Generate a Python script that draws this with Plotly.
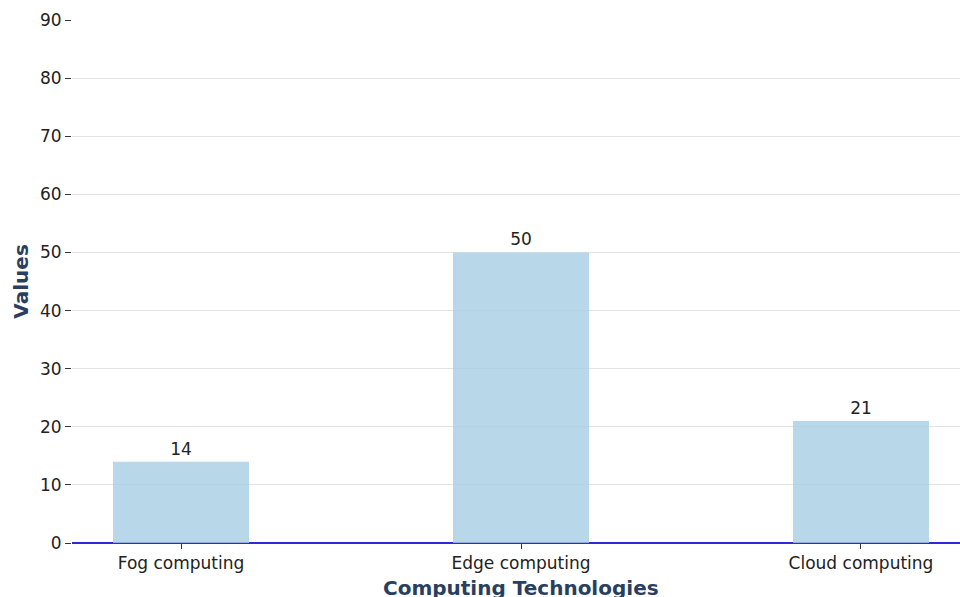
import plotly.graph_objects as go

# Survey counts per computing paradigm
categories = ["Fog computing", "Edge computing", "Cloud computing"]
values = [14, 50, 21]

y_ticks = [0, 10, 20, 30, 40, 50, 60, 70, 80, 90]

x_title = "Computing Technologies"
y_title = "Values"

FONT = "DejaVu Sans"
TEXT_DARK = "#222222"
TITLE_COLOR = "#2a3f5f"

fig = go.Figure(
    go.Bar(
        x=categories,
        y=values,
        width=0.4,
        marker=dict(color="#a6cee3", opacity=0.8, line=dict(width=0)),
        text=[str(v) for v in values],
        textposition="outside",
        textfont=dict(family=FONT, size=17, color=TEXT_DARK),
        cliponaxis=False,
    )
)

fig.update_layout(
    width=960,
    height=597,
    margin=dict(l=72, r=0, t=20, b=54),
    paper_bgcolor="white",
    plot_bgcolor="white",
    showlegend=False,
    font=dict(family=FONT, size=17, color=TEXT_DARK),
    xaxis=dict(
        range=[-0.3206, 2.2912],
        showgrid=False,
        zeroline=False,
        showline=False,
        ticks="outside",
        ticklen=5,
        tickwidth=1.3,
        tickcolor="#333333",
        tickfont=dict(family=FONT, size=17, color=TEXT_DARK),
    ),
    yaxis=dict(
        range=[0, 90],
        tickvals=y_ticks,
        showgrid=True,
        gridcolor="#e3e3e3",
        gridwidth=1,
        zeroline=True,
        zerolinecolor="#2b2bdc",
        zerolinewidth=2,
        showline=False,
        ticks="outside",
        ticklen=6,
        tickwidth=1.3,
        tickcolor="#333333",
        tickfont=dict(family=FONT, size=17, color=TEXT_DARK),
    ),
    annotations=[
        dict(
            text=f"<b>{x_title}</b>",
            xref="x", x=1,
            yref="paper", y=-0.086,
            xanchor="center", yanchor="middle",
            showarrow=False,
            font=dict(family=FONT, size=20, color=TITLE_COLOR),
        ),
        dict(
            text=f"<b>{y_title}</b>",
            xref="paper", x=-0.0584,
            yref="paper", y=0.5,
            xanchor="center", yanchor="middle",
            textangle=-90,
            showarrow=False,
            font=dict(family=FONT, size=20, color=TITLE_COLOR),
        ),
    ],
)

fig.write_html("out.html")
